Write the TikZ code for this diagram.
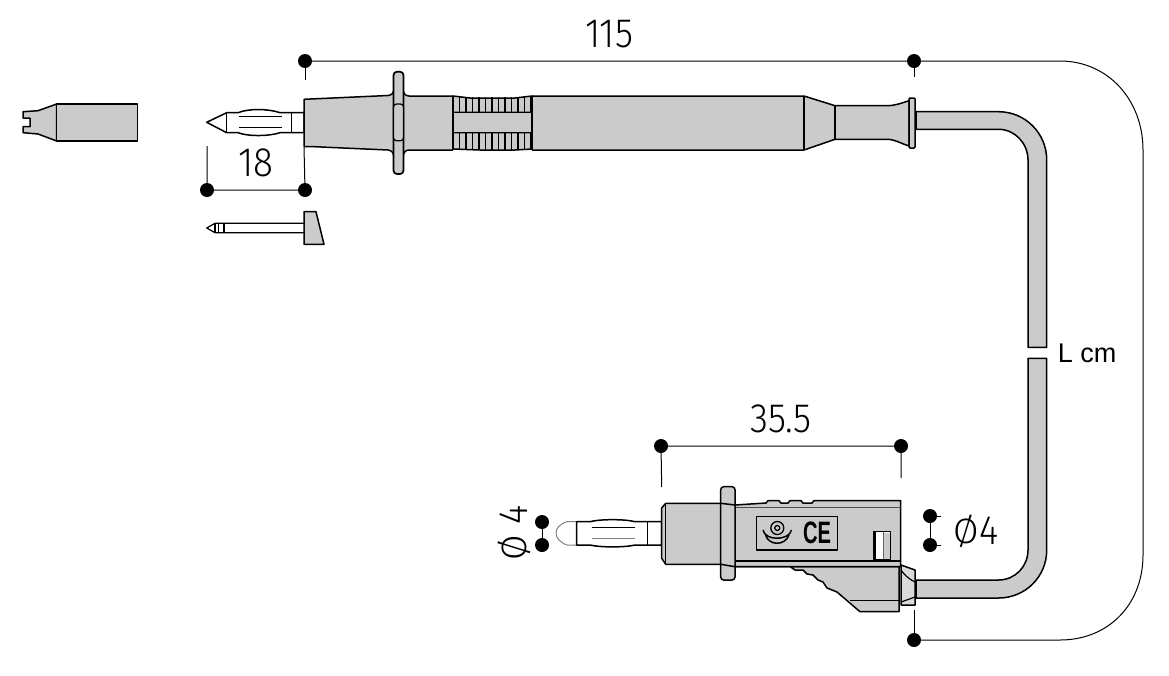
\documentclass[tikz,border=0pt]{standalone}
\usepackage{fontspec}
\setmainfont{Liberation Sans}
\newfontfamily\dimfont{Fira Sans Light}
\definecolor{probegray}{HTML}{CBCBCB}
\definecolor{reliefgray}{HTML}{DADADA}
\def\dimlab#1{\scalebox{.9}[1]{\dimfont\fontsize{41}{41}\selectfont #1}}
\def\dimzero{\raisebox{1.2pt}{\scalebox{1}[.86]{Ø}}}

\begin{document}
\begin{tikzpicture}[x=1pt,y=-1pt,
                      every path/.style = {line join=round},
                      part/.style = {draw=black, fill=probegray, line width=1.5pt},
                      bare/.style = {draw=black, fill=white, line width=1.5pt},
                      seam/.style = {draw=black, line width=1.5pt},
                      dimdot/.style = {circle, fill=black, inner sep=0pt, minimum size=14pt},
                      dimline/.style = {draw=black, line width=1pt},
                      dimtext/.style = {inner sep=0pt}]
  \useasboundingbox (0,0) rectangle (1169,675);

  % cap
  \draw[part] (56.7,104) -- (38,110.7) -- (23,111.7) -- (23,118) -- (30,118) -- (30,126.7) -- (23,126.7)
     -- (23,132.7) -- (38,134) -- (56.7,141) -- cycle;
  \draw[part] (56.7,104) rectangle (137.3,141);

  % small tip
  \draw[part] (304,211.7) -- (316,211.7) -- (324,244.3) -- (304,244.3) -- cycle;
  \draw[bare, line width=1.2pt] (206.7,228) -- (215,223.3) -- (304,223.3) -- (304,232.7) -- (215,232.7) -- cycle;
  \draw[seam, line width=1.2pt] (215,223.3) -- (215,232.7) (218.3,223.3) -- (218.3,232.7) (224,223.3) -- (224,232.7);

  % banana of the probe
  \draw[bare] (206.7,122.3) -- (226.7,112.7) -- (238,112.7) .. controls (248,108.5) and (268,108.5) .. (280,112.7)
     -- (304,112.7) -- (304,132.7) -- (280,132.7) .. controls (268,136.5) and (248,136.5) .. (238,132.7)
     -- (226.7,132.7) -- cycle;
  \draw[seam] (226.7,112.7) -- (226.7,132.7) (291.7,112.7) -- (291.7,132.7)
     (239.3,116.7) -- (281.7,116.7) (239.3,127.7) -- (281.7,127.7);

  % probe body
  \draw[part] (304,99.3) -- (388,95.5) .. controls (392,95) and (394,93) .. (394,88) -- (403,88) .. controls (403,93) and (405,96) .. (409,96)
     -- (804,96) -- (835,105.7) -- (887,105.7) .. controls (895,105.7) and (902,103) .. (909,100.7)
     -- (909,146) .. controls (902,144) and (895,139.3) .. (887,139.3) -- (835,139.3) -- (804,150) -- (409,150)
     .. controls (405,150) and (403,153) .. (403,158) -- (394,158) .. controls (394,153) and (392,150.5) .. (388,150) -- (310,146.5)
     -- (304,146.5) -- cycle;
  \draw[part, line width=1.7pt, rounded corners=3.5pt] (393.5,71.7) rectangle (403.5,174);
  \draw[part, line width=1.2pt, rounded corners=3pt] (393.5,104) rectangle (403.5,140.7);
  \draw[seam] (804,96) -- (804,150) (835,105.7) -- (835,139.3);
  \draw[part, rounded corners=1pt] (909,98) rectangle (915,148);

  % ribbed part
  \fill[white] (453,94) rectangle (532,152);
  \draw[part] (453,96) -- (470,98) -- (515,98) -- (532,96) -- (532,112.3) -- (453,112.3) -- cycle;
  \draw[part] (453,149) -- (480,150) -- (515,150) -- (532,149) -- (532,132.7) -- (453,132.7) -- cycle;
  \draw[part] (453,112.3) rectangle (532,132.7);
  \foreach \x in {453,459.5,...,532} {
    \draw[seam, line width=1.1pt] (\x,97) -- (\x,112.3) (\x,132.7) -- (\x,150);
  }
  \draw[seam] (453,96) -- (453,150) (532,96) -- (532,150);

  % cable
  \draw[part] (916,111.7) -- (998.5,111.7) .. controls (1025,111.7) and (1046.7,133) .. (1046.7,160) -- (1046.7,347.3)
     -- (1028,347.3) -- (1028,160) .. controls (1028,143.5) and (1015,129.3) .. (998.5,129.3) -- (916,129.3) -- cycle;
  \draw[part] (1028,358.3) -- (1046.7,358.3) -- (1046.7,550) .. controls (1046.7,577) and (1025,598) .. (998.5,598)
     -- (916,598) -- (916,580) -- (998.5,580) .. controls (1015,580) and (1028,566.5) .. (1028,550) -- cycle;

  % banana of the plug
  \draw[draw=gray, line width=1pt, fill=white] (576.7,521.7) -- (567,521.7) .. controls (560,524) and (556,528) .. (556,533)
     .. controls (556,538) and (560,542.5) .. (567,545) -- (576.7,545);
  \draw[bare] (576.7,521.7) -- (590,521.7) .. controls (600,519) and (625,519) .. (635,521.7) -- (661.7,521.7) -- (661.7,545)
     -- (635,545) .. controls (625,547.5) and (600,547.5) .. (590,545) -- (576.7,545) -- cycle;
  \draw[seam] (647.3,521.7) -- (647.3,545) (591.7,527.7) -- (635,527.7);
  \draw[draw=gray, line width=.8pt] (591.7,538.3) -- (635,538.3);

  % plug body
  \draw[draw=black, fill=reliefgray, line width=1.5pt] (915,570) -- (901,565) -- (901,605) -- (915,605) -- cycle;
  \draw[seam, line width=1.2pt] (901,570) .. controls (904,574) and (907,578) .. (915,582) (901,602) -- (915,597);
  \draw[part] (735,566.7) -- (790,566.5) -- (795,570) -- (803,570) -- (807,574) -- (813,575) -- (818,580) -- (823,582) -- (827,588)
     -- (837,592) -- (860,611.7) -- (899,611.7) -- (899,566.7) -- cycle;
  \draw[seam] (850,600.7) -- (899,600.7);
  \draw[part] (735,505) -- (766,503) -- (768,500.7) -- (779,500.7) -- (781,503) -- (788,503) -- (790,500.7) -- (801,500.7) -- (803,503)
     -- (812,503) -- (814,500.7) -- (900.7,500.7) -- (900.7,566.7) -- (735,566.7) -- cycle;
  \draw[draw=black!70, line width=.8pt] (735,507) -- (900.7,507);
  \draw[seam] (735,561) -- (900.7,561);
  \draw[part] (661.7,508) -- (665.7,503.3) -- (721,503.3) -- (721,564.3) -- (665.7,564.3) -- (661.7,558.3) -- cycle;
  \draw[seam] (665.7,503.3) -- (665.7,564.3);
  \draw[part, rounded corners=3pt] (720.7,486.7) rectangle (735,580);
  \draw[seam] (720.7,503.3) -- (735,505) (720.7,564.3) -- (735,566.7);

  % label plate
  \draw[part, line width=1.4pt] (756.7,516.7) rectangle (837.3,550);
  \foreach \r in {2.5,6.5} {
    \draw[black, line width=1.3pt] (777.3,528) circle (\r);
  }
  \draw[black, line width=1.5pt] (763,530) .. controls (765,541) and (789,541) .. (791.5,530);
  \draw[black, line width=1.5pt] (765.5,535) .. controls (769,546) and (785,546) .. (789,535);
  \node[dimtext, font=\bfseries\fontsize{31}{31}\selectfont] (plateCE) at (817,533) {\scalebox{.65}[1]{CE}};
  \draw[seam, fill=white] (873.3,531.7) rectangle (890.7,559.3);
  \fill[probegray] (884,533) rectangle (889.8,558.5);
  \draw[seam] (875,531.7) -- (875,559.3);
  \draw[draw=black!60, line width=.8pt] (883.5,531.7) -- (883.5,559.3);

  % dimensions
  \node[dimdot] (topL) at (305,61) {};
  \node[dimdot] (topR) at (914,61) {};
  \node[dimdot] (botR) at (914,640) {};
  \coordinate (topLend) at (305,80);
  \coordinate (topRend) at (914,77);
  \coordinate (botRend) at (914,610);
  \draw[dimline] (topL) -- (topR) -- (1060,61) .. controls (1108,61) and (1143,100) .. (1143,150) -- (1143,555)
     .. controls (1143,605) and (1108,640) .. (1060,640) -- (botR);
  \draw[dimline] (topL) -- (topLend) (topR) -- (topRend) (botR) -- (botRend);
  \node[dimtext] (len115) at (609,34) {\dimlab{115}};

  \node[dimdot] (tipL) at (207,190) {};
  \node[dimdot] (tipR) at (305,190) {};
  \coordinate (tipLend) at (207,146);
  \coordinate (tipRend) at (304,147);
  \draw[dimline] (tipLend) -- (tipL) -- (tipR) -- (tipRend);
  \node[dimtext] (len18) at (256,163) {\dimlab{18}};

  \node[dimdot] (plugL) at (661,446) {};
  \node[dimdot] (plugR) at (901,446) {};
  \coordinate (plugLend) at (661.7,487);
  \coordinate (plugRend) at (901,478);
  \draw[dimline] (plugLend) -- (plugL) -- (plugR) -- (plugRend);
  \node[dimtext] (len355) at (781,419) {\dimlab{35.5}};

  \node[dimdot] (pinT) at (542,522) {};
  \node[dimdot] (pinB) at (542,545) {};
  \draw[dimline] (pinT) -- (pinB);
  \node[dimtext, rotate=90] (dia4a) at (514,533) {\dimlab{\dimzero\ 4}};

  \node[dimdot] (cordT) at (930,516) {};
  \node[dimdot] (cordB) at (930,545) {};
  \coordinate (cordTend) at (941,516);
  \coordinate (cordBend) at (941,545);
  \draw[dimline] (cordTend) -- (cordT) -- (cordB) -- (cordBend);
  \node[dimtext] (dia4b) at (976,531) {\dimlab{\dimzero 4}};

  \node[dimtext, font=\fontsize{27}{27}\selectfont] (lenL) at (1087,353) {L cm};
\end{tikzpicture}
\end{document}
